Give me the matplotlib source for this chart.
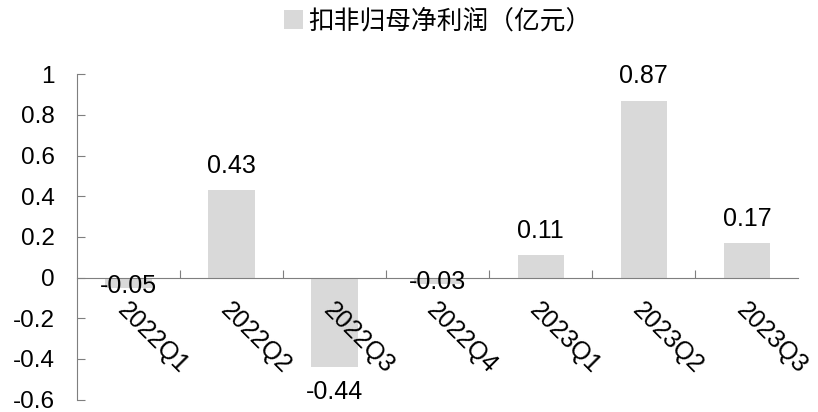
import matplotlib
matplotlib.use("Agg")
import matplotlib.pyplot as plt
from matplotlib.patches import Patch

plt.rcParams['font.family'] = ['Liberation Sans', 'Noto Sans CJK SC', 'DejaVu Sans']

quarters = ["2022Q1", "2022Q2", "2022Q3", "2022Q4", "2023Q1", "2023Q2", "2023Q3"]
profit = [-0.05, 0.43, -0.44, -0.03, 0.11, 0.87, 0.17]
yticks = [-0.6, -0.4, -0.2, 0, 0.2, 0.4, 0.6, 0.8, 1]
ytick_labels = ["-0.6", "-0.4", "-0.2", "0", "0.2", "0.4", "0.6", "0.8", "1"]
series_name = "扣非归母净利润（亿元）"

bar_color = "#d9d9d9"
axis_color = "#7f7f7f"
fs = 18

fig = plt.figure(figsize=(8.18, 4.12), dpi=100)
ax = fig.add_axes([0.094, 0.03, 0.882, 0.79])

x = list(range(len(quarters)))
ax.bar(x, profit, width=0.45, color=bar_color, zorder=1)

ax.set_xlim(-0.5, len(quarters) - 0.5)
ax.set_ylim(-0.6, 1.0)
ax.set_yticks(yticks)
ax.set_yticklabels(ytick_labels, fontsize=fs - 0.5)

for s in ["top", "right"]:
    ax.spines[s].set_visible(False)
ax.spines["left"].set_color(axis_color)
ax.spines["bottom"].set_color(axis_color)
ax.spines["bottom"].set_position(("data", 0))
ax.tick_params(axis="y", direction="in", length=6, color=axis_color, pad=16)

# category boundaries carry the x ticks; labels sit at category centres
ax.set_xticks([i + 0.5 for i in x[:-1]])
ax.set_xticklabels([])
ax.tick_params(axis="x", direction="in", length=6, color=axis_color)
for i, q in enumerate(quarters):
    ax.annotate(q, xy=(i, 0), xytext=(1, -15), textcoords="offset points",
                rotation=-45, rotation_mode="anchor", ha="left", va="top",
                fontsize=fs, annotation_clip=False, zorder=3)

for i, v in enumerate(profit):
    label = f"{v:.2f}"
    if v >= 0:
        ax.annotate(label, xy=(i, v), xytext=(0, 9), textcoords="offset points",
                    ha="center", va="bottom", fontsize=fs, zorder=3)
    elif abs(v) < 0.1:
        ax.annotate(label, xy=(i, v), xytext=(0, 1), textcoords="offset points",
                    ha="center", va="center", fontsize=fs, zorder=3)
    else:
        ax.annotate(label, xy=(i, v), xytext=(0, -9), textcoords="offset points",
                    ha="center", va="top", fontsize=fs, zorder=3)

handle = Patch(facecolor=bar_color, edgecolor="none")
fig.legend([handle], [series_name], loc="upper center", bbox_to_anchor=(0.535, 1.035),
           frameon=False, handlelength=0.75, handleheight=0.75,
           handletextpad=0.2, prop={'family': ['Noto Sans CJK SC', 'DejaVu Sans'], 'size': 18.5})

fig.savefig("out.png", dpi=100)
